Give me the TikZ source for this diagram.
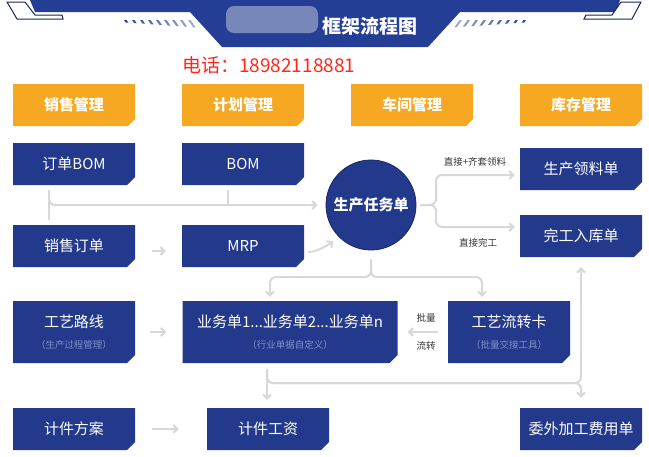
\documentclass[tikz,border=0pt]{standalone}
\usepackage{fontspec}
\setmainfont{Noto Sans CJK SC}
\usepackage{tikz}
\usetikzlibrary{shapes.misc,arrows.meta}

\definecolor{boxblue}{RGB}{35,57,140}
\definecolor{headblue}{RGB}{36,62,150}
\definecolor{tabgold}{RGB}{247,168,35}
\definecolor{linkgray}{RGB}{216,216,216}
\definecolor{subblue}{RGB}{125,145,200}
\definecolor{phonered}{RGB}{255,38,28}
\definecolor{blurblue}{RGB}{120,135,185}

\newcommand\subnote[1]{{\fontsize{9.5}{11}\selectfont\color{subblue}#1}}

\begin{document}
\begin{tikzpicture}[x=1pt, y=-1pt,
  tab/.style={chamfered rectangle, chamfered rectangle corners=south east, chamfered rectangle sep=3.5pt, fill=tabgold, text=white, minimum width=122pt, minimum height=42pt, inner sep=0pt, font=\fontsize{15}{18}\selectfont\bfseries},
  card/.style={chamfered rectangle, chamfered rectangle corners=south east, chamfered rectangle sep=4pt, fill=boxblue, text=white, minimum width=122pt, minimum height=42pt, inner sep=0pt, align=center, font=\fontsize{15}{18}\selectfont},
  hub/.style={circle, fill=boxblue, draw=boxblue!70!black, line width=0.8pt, minimum size=90pt, inner sep=0pt, text=white, font=\fontsize{15}{18}\selectfont\bfseries},
  link/.style={draw=linkgray, line width=2pt},
  arr/.style={link, -{Straight Barb[length=4pt,width=8pt]}},
  note/.style={font=\fontsize{9.5}{11}\selectfont, text=black!80},
  frame/.style={draw=headblue!60!black, line width=1pt, fill=white}
]
\useasboundingbox (0,0) rectangle (649,456);
% Header banner
\fill[headblue] (30,0) -- (620,0) -- (616,12) -- (460,12) -- (428,47) -- (222,47) -- (190,12) -- (35,12) -- cycle;
\draw[frame] (7,2) -- (25,2) -- (35,15) -- (62,15) -- (63,19) -- (17,19) -- cycle;
\draw[frame] (621,2) -- (641,2) -- (632,19) -- (584,19) -- (586,15) -- (612,15) -- cycle;
\foreach \i in {0,...,8}{
  \pgfmathsetmacro\pct{100-7*\i}
  \pgfmathsetmacro\hh{2.5+0.6*\i}
  \fill[headblue!\pct!white] (124+8*\i,20) -- ++(2.5,0) -- ++(0.7*\hh,\hh) -- ++(-2.5,0) -- cycle;
  \fill[headblue!\pct!white] (526-8*\i,20) -- ++(-2.5,0) -- ++(-0.7*\hh,\hh) -- ++(2.5,0) -- cycle;
}
\fill[blurblue, rounded corners=8pt] (226,6) rectangle (318,33);
\node[text=white, font=\fontsize{19}{22}\selectfont\bfseries] (title) at (370,26) {框架流程图};
\node[text=phonered, font=\fontsize{19}{22}\selectfont, anchor=west, inner sep=0pt] (tel) at (182,65) {电话：18982118881};
% Column headings
\node[tab] (xiaoshou) at (74,105) {销售管理};
\node[tab] (jihua) at (243,105) {计划管理};
\node[tab] (chejian) at (412,105) {车间管理};
\node[tab] (kucun) at (581,105) {库存管理};
% Documents
\node[card] (ddbom) at (74,164) {订单BOM};
\node[card] (bom) at (243,164) {BOM};
\node[card] (xsdd) at (74,246) {销售订单};
\node[card] (mrp) at (243,246) {MRP};
\node[hub] (renwu) at (371,205) {生产任务单};
\node[card] (lingliao) at (581,169) {生产领料单};
\node[card] (ruku) at (581,236) {完工入库单};
\node[card, minimum height=62pt] (gongyi) at (74,332) {工艺路线\\[3pt]\subnote{（生产过程管理）}};
\node[card, minimum height=62pt, minimum width=215pt] (yewu) at (290,332) {业务单1...业务单2...业务单n\\[3pt]\subnote{（行业单据自定义）}};
\node[card, minimum height=62pt] (liuzhuan) at (509,332) {工艺流转卡\\[3pt]\subnote{（批量交接工具）}};
\node[card] (jjfa) at (74,429) {计件方案};
\node[card] (jjgz) at (268,429) {计件工资};
\node[card] (weiwai) at (581,429) {委外加工费用单};
% Into the task order
\draw[link, shorten <=5pt, shorten >=5pt] ([xshift=-25pt]ddbom.south) -- ([xshift=-25pt]xsdd.north);
\draw[arr, rounded corners=6pt, shorten <=5pt, shorten >=8pt] ([xshift=-25pt]ddbom.south) |- (renwu.west);
\draw[link, shorten <=5pt] ([xshift=-15pt]bom.south) -- ([xshift=-15pt]bom.south |- renwu.west);
\draw[arr, shorten <=17pt, shorten >=16pt] ([yshift=-5pt]xsdd.east) -- ([yshift=-5pt]mrp.west);
\draw[arr, shorten <=4pt, shorten >=7pt] ([yshift=-6pt]mrp.east) .. controls +(14,0) and +(-8,6) .. (renwu.225);
% Out to the store
\coordinate (forkB) at (436,205);
\draw[arr, rounded corners=6pt, shorten <=4pt, shorten >=5pt] (renwu.east) -- (forkB) |- ([yshift=-6pt]lingliao.west);
\draw[arr, rounded corners=6pt, shorten <=4pt, shorten >=5pt] (renwu.east) -- (forkB) |- ([yshift=9pt]ruku.west);
\node[note] (lblA) at (475,162) {直接+齐套领料};
\node[note] (lblB) at (478,243) {直接完工};
% Down to the shop floor
\coordinate (forkA) at (371,277);
\draw[arr, rounded corners=6pt, shorten <=9pt, shorten >=4pt] (renwu.south) -- (forkA) -| ([xshift=-20pt]yewu.north);
\draw[arr, rounded corners=6pt, shorten <=9pt, shorten >=4pt] (renwu.south) -- (forkA) -| ([xshift=-27pt]liuzhuan.north);
\draw[arr, shorten <=15pt, shorten >=16pt] (gongyi.east) -- (yewu.west);
\draw[arr, shorten <=10pt, shorten >=10pt] (liuzhuan.west) -- (yewu.east);
\node[note] (lblC) at (426,318) {批量};
\node[note] (lblD) at (426,346) {流转};
% Wages and outsourcing
\coordinate (forkC) at (581,383);
\draw[arr, shorten <=6pt, shorten >=8pt] ([xshift=-23pt]yewu.south) -- ([xshift=-23pt]yewu.south |- jjgz.north);
\draw[arr, rounded corners=6pt, shorten <=6pt, shorten >=10pt] ([xshift=-23pt]yewu.south) |- (forkC) -- (ruku.south);
\draw[arr, rounded corners=6pt, shorten <=6pt, shorten >=10pt] ([xshift=-23pt]yewu.south) |- (forkC) -- (weiwai.north);
\draw[arr, shorten <=17pt, shorten >=28pt] (jjfa.east) -- (jjgz.west);
\end{tikzpicture}
\end{document}
